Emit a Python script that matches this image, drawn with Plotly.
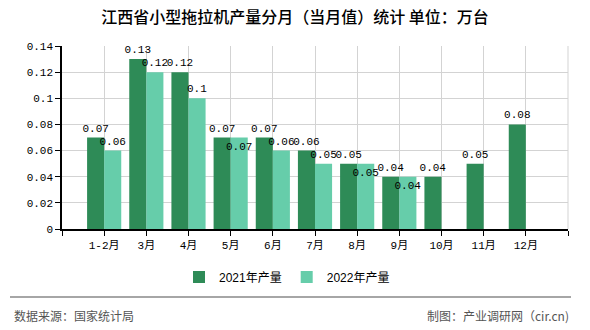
import plotly.graph_objects as go

categories = ["1-2月", "3月", "4月", "5月", "6月", "7月", "8月", "9月", "10月", "11月", "12月"]
prod_2021 = [0.07, 0.13, 0.12, 0.07, 0.07, 0.06, 0.05, 0.04, 0.04, 0.05, 0.08]
prod_2022 = [0.06, 0.12, 0.10, 0.07, 0.06, 0.05, 0.05, 0.04, None, None, None]
series_names = ["2021年产量", "2022年产量"]
y_tick_vals = [0, 0.02, 0.04, 0.06, 0.08, 0.10, 0.12, 0.14]
y_tick_text = ["0", "0.02", "0.04", "0.06", "0.08", "0.1", "0.12", "0.14"]
title_text = "江西省小型拖拉机产量分月（当月值）统计 单位：万台"
source_text = "数据来源：国家统计局"
credit_text = "制图：产业调研网（cir.cn)"

W, H = 590, 330
L, R, T, B = 62, 22, 46, 101
PW, PH = W - L - R, H - T - B


def px_x(x):
    return (x - L) / PW


def px_y(y):
    return (H - B - y) / PH


def fmt(v):
    return "" if v is None else f"{v:g}"


idx = list(range(len(categories)))
label_font = dict(family="Liberation Mono, Noto Sans CJK SC", size=11, color="#000")

pos_2022 = ["outside"] * len(categories)
for i in (3, 6, 7):
    pos_2022[i] = "inside"

fig = go.Figure()
fig.add_trace(go.Bar(
    x=idx, y=prod_2021, name=series_names[0],
    marker=dict(color="#2E8B57", line=dict(width=0)),
    text=[fmt(v) for v in prod_2021], textposition="outside", textangle=0,
    textfont=label_font, outsidetextfont=label_font, insidetextfont=label_font,
    constraintext="none", cliponaxis=False, hoverinfo="skip",
))
fig.add_trace(go.Bar(
    x=idx, y=prod_2022, name=series_names[1],
    marker=dict(color="#66CDAA", line=dict(width=0)),
    text=[fmt(v) for v in prod_2022], textposition=pos_2022, textangle=0,
    insidetextanchor="end",
    textfont=label_font, outsidetextfont=label_font, insidetextfont=label_font,
    constraintext="none", cliponaxis=False, hoverinfo="skip",
))

n = len(categories)
fig.update_layout(
    width=W, height=H,
    margin=dict(l=L, r=R, t=T, b=B, pad=0),
    paper_bgcolor="white", plot_bgcolor="white",
    barmode="group", bargap=0.19, bargroupgap=0,
    uniformtext=dict(minsize=11, mode="show"),
    title=dict(text=title_text, x=0.5, xref="container", xanchor="center",
               y=1 - 17 / H, yref="container", yanchor="middle",
               font=dict(family="Noto Sans CJK SC", size=16, color="#000", weight=500)),
    showlegend=True,
    legend=dict(orientation="h", x=px_x(287), xanchor="center", y=px_y(277), yanchor="middle",
                font=dict(family="Liberation Sans, Noto Sans CJK SC", size=12, color="#000"),
                itemwidth=30, tracegroupgap=0, bgcolor="rgba(0,0,0,0)"),
    xaxis=dict(range=[-1, n], tickmode="array", tickvals=list(range(-1, n + 1)),
               ticktext=[""] + categories + [""],
               showgrid=True, gridcolor="#d3d3d3", gridwidth=1,
               showline=True, linecolor="#000", linewidth=1.5,
               ticks="outside", ticklen=5, tickcolor="#000",
               tickfont=dict(family="Liberation Mono, Noto Sans CJK SC", size=11, color="#000"),
               zeroline=False, fixedrange=True),
    yaxis=dict(range=[0, 0.14], tickmode="array", tickvals=y_tick_vals, ticktext=y_tick_text,
               showgrid=True, gridcolor="#d3d3d3", gridwidth=1,
               showline=True, linecolor="#000", linewidth=1.5,
               ticks="outside", ticklen=5, tickcolor="#000",
               tickfont=dict(family="Liberation Mono, Noto Sans CJK SC", size=11, color="#000"),
               zeroline=False, fixedrange=True),
    shapes=[
        dict(type="line", xref="paper", yref="paper",
             x0=px_x(10), x1=px_x(571), y0=px_y(297), y1=px_y(297),
             line=dict(color="#888", width=1.5)),
        dict(type="line", xref="paper", yref="paper",
             x0=1, x1=1, y0=0, y1=1, line=dict(color="#d3d3d3", width=1)),
    ],
    annotations=[
        dict(text=source_text, xref="paper", yref="paper", x=px_x(12), y=px_y(315),
             xanchor="left", yanchor="middle", showarrow=False,
             font=dict(family="Noto Sans CJK SC", size=12, color="#555")),
        dict(text=credit_text, xref="paper", yref="paper", x=px_x(571), y=px_y(315),
             xanchor="right", yanchor="middle", showarrow=False,
             font=dict(family="Noto Sans CJK SC", size=12, color="#555")),
    ],
)

fig.write_html("out.html", config={"displayModeBar": False})
